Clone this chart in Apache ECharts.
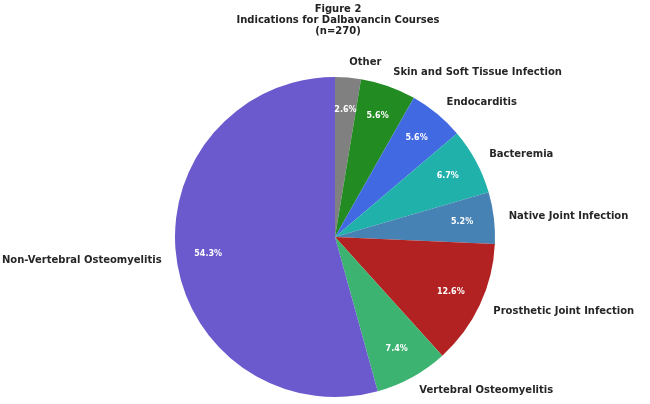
<!DOCTYPE html>
<html>
<head>
<meta charset="utf-8">
<script src="https://cdn.jsdelivr.net/npm/echarts@6/dist/echarts.min.js"></script>
<style>
  html, body { margin: 0; padding: 0; background: #fff; }
  #chart { width: 650px; height: 404px; }
</style>
</head>
<body>
<div id="chart"></div>
<script>
// 数据
const categories = [
    'Other',
    'Skin and Soft Tissue Infection',
    'Endocarditis',
    'Bacteremia',
    'Native Joint Infection',
    'Prosthetic Joint Infection',
    'Vertebral Osteomyelitis',
    'Non-Vertebral Osteomyelitis'
];
const percents = [2.6, 5.6, 5.6, 6.7, 5.2, 12.6, 7.4, 54.3];
const colors = ['#808080', '#228B22', '#4169E1', '#20B2AA', '#4682B4', '#B22222', '#3CB371', '#6A5ACD'];

const chart = echarts.init(document.getElementById('chart'));

const pieData = categories.map((name, i) => ({
    name: name,
    value: percents[i],
    itemStyle: { color: colors[i] }
}));

const center = [335, 237];
const font = 'DejaVu Sans';

const option = {
    animation: false,
    title: {
        text: 'Figure 2\nIndications for Dalbavancin Courses\n(n=270)',
        left: 333,
        top: -1,
        textAlign: 'center',
        textStyle: {
            fontFamily: font,
            fontWeight: 'bold',
            fontSize: 10,
            lineHeight: 11,
            color: '#222'
        }
    },
    series: [
        {
            // 扇区 + 外部名称
            type: 'pie',
            center: center,
            radius: 160,
            startAngle: 90,
            clockwise: true,
            avoidLabelOverlap: false,
            silent: true,
            data: pieData,
            label: {
                show: true,
                position: 'outside',
                formatter: '{b}',
                fontFamily: font,
                fontWeight: 'bold',
                fontSize: 10,
                color: '#262626',
                distanceToLabelLine: 0
            },
            labelLine: { show: false, length: 15, length2: 0 }
        },
        {
            // 百分比标签
            type: 'pie',
            center: center,
            radius: [90, 160],
            startAngle: 90,
            clockwise: true,
            avoidLabelOverlap: false,
            silent: true,
            data: pieData.map(d => ({ name: d.name, value: d.value })),
            itemStyle: { color: 'transparent' },
            label: {
                show: true,
                position: 'inside',
                formatter: p => p.value.toFixed(1) + '%',
                fontFamily: font,
                fontWeight: 'bold',
                fontSize: 8,
                color: '#fff'
            },
            labelLine: { show: false }
        }
    ]
};
chart.setOption(option);
</script>
</body>
</html>
